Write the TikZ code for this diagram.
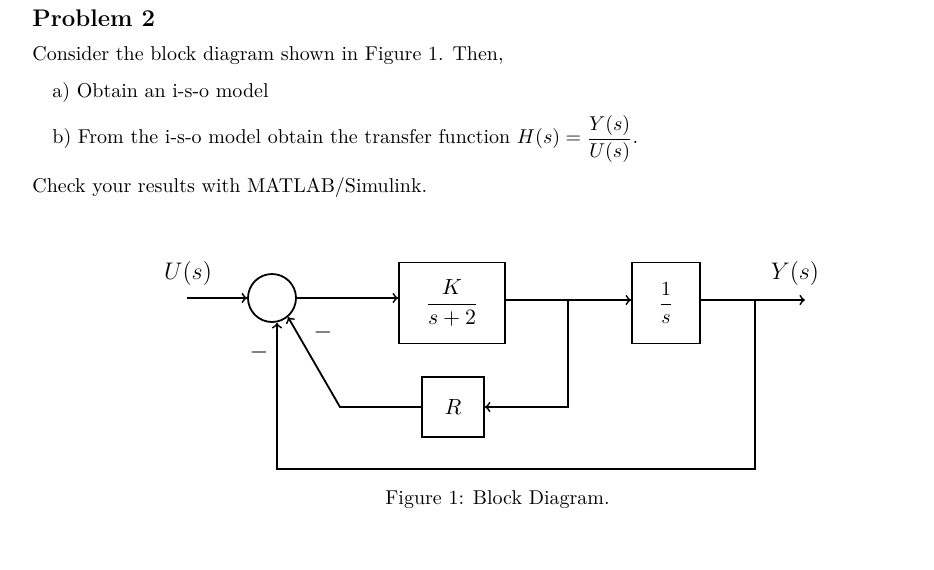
\documentclass[tikz,border=0pt]{standalone}
\usepackage{amsmath}
\begin{document}
\begin{tikzpicture}[x=0.5pt,y=-0.5pt,
  blk/.style={draw,line width=0.9pt,inner sep=0},
  con/.style={line width=0.9pt},
  arr/.style={con,->},
  txt/.style={anchor=west,inner sep=0,font=\fontsize{10}{12}\selectfont}]
\useasboundingbox (0,0) rectangle (934,569);
\node[txt,font=\fontsize{12}{14}\selectfont\bfseries] (title) at (32,18) {Problem 2};
\node[txt] (l1) at (32,56) {Consider the block diagram shown in Figure 1. Then,};
\node[txt] (l2) at (52,92) {a) Obtain an i-s-o model};
\node[txt] (l3) at (52,139) {b) From the i-s-o model obtain the transfer function $H(s)=\dfrac{Y(s)}{U(s)}$.};
\node[txt] (l4) at (32,187) {Check your results with MATLAB/Simulink.};

\node[draw,circle,line width=0.9pt,minimum size=24pt,inner sep=0] (sum) at (272,298) {};
\node[blk,minimum width=53pt,minimum height=40.5pt,font=\fontsize{11}{13}\selectfont] (G) at (452,303) {$\dfrac{K}{s+2}$};
\node[blk,minimum width=34pt,minimum height=40.5pt] (I) at (666,303) {$\dfrac{1}{s}$};
\node[blk,minimum width=31pt,minimum height=30pt,font=\fontsize{11}{13}\selectfont] (R) at (453,407) {$R$};
\coordinate (in) at (187,298);
\coordinate (out) at (805,300);
\coordinate (b1) at (568,300);
\coordinate (b2) at (755,300);
\coordinate (k) at (340,407);
\coordinate (f) at (277,469);
\node[inner sep=0,font=\fontsize{12}{14}\selectfont] (U) at (188,273) {$U(s)$};
\node[inner sep=0,font=\fontsize{12}{14}\selectfont] (Y) at (795,273) {$Y(s)$};
\node[inner sep=0,font=\fontsize{12}{14}\selectfont] (m1) at (323,332) {$-$};
\node[inner sep=0,font=\fontsize{12}{14}\selectfont] (m2) at (259,352) {$-$};

\draw[arr] (in) -- (sum.west);
\draw[arr] (sum.east) -- (sum.east -| G.west);
\draw[arr] (G.east |- b1) -- (I.west |- b1);
\draw[arr] (I.east |- out) -- (out);
\draw[arr] (b1) |- (R.east);
\draw[arr] (R.west) -- (k) -- (sum.-50);
\draw[arr] (b2) |- (f) -- (f |- sum.south);
\node[txt] (cap) at (385,500) {Figure 1: Block Diagram.};
\end{tikzpicture}
\end{document}
